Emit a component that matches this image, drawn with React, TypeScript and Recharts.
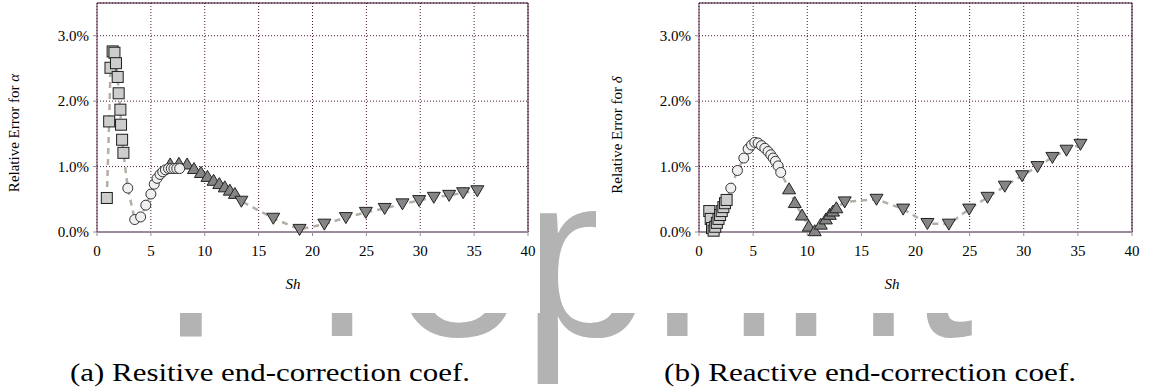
import { CartesianGrid, ReferenceLine, Scatter, ScatterChart, XAxis, YAxis } from 'recharts';

const shTicks = [0, 5, 10, 15, 20, 25, 30, 35, 40];
const errTicks = [0, 1, 2, 3];

// (a) resistive coef, relative error for alpha (%)
const alphaSquareSh = [0.91, 1.13, 1.25, 1.45, 1.62, 1.76, 1.92, 2.01, 2.17, 2.23, 2.33, 2.45];
const alphaSquareErr = [0.52, 1.69, 2.51, 2.76, 2.74, 2.58, 2.37, 2.12, 1.87, 1.64, 1.41, 1.21];
const alphaCircleSh = [2.86, 3.5, 4.05, 4.53, 5.0, 5.31, 5.57, 5.85, 6.1, 6.35, 6.64, 6.89, 7.14, 7.4, 7.67];
const alphaCircleErr = [0.67, 0.19, 0.23, 0.41, 0.58, 0.73, 0.82, 0.88, 0.92, 0.95, 0.97, 0.97, 0.97, 0.97, 0.97];
const alphaUpSh = [6.79, 7.6, 8.36, 9.0, 9.65, 10.25, 10.82, 11.35, 11.86, 12.33, 12.8];
const alphaUpErr = [1.04, 1.05, 1.04, 0.97, 0.91, 0.85, 0.79, 0.74, 0.69, 0.64, 0.59];
const alphaDownSh = [13.4, 16.36, 18.8, 21.1, 23.1, 24.95, 26.7, 28.35, 29.9, 31.26, 32.68, 33.98, 35.3];
const alphaDownErr = [0.47, 0.21, 0.04, 0.12, 0.22, 0.3, 0.36, 0.43, 0.48, 0.53, 0.56, 0.6, 0.63];

// (b) reactive coef, relative error for delta (%)
const deltaSquareSh = [0.95, 1.08, 1.2, 1.35, 1.5, 1.65, 1.8, 1.95, 2.1, 2.25, 2.4, 2.55];
const deltaSquareErr = [0.32, 0.2, 0.06, 0.02, 0.08, 0.14, 0.2, 0.26, 0.32, 0.38, 0.44, 0.49];
const deltaCircleSh = [2.94, 3.55, 4.14, 4.54, 4.85, 5.15, 5.46, 5.77, 6.08, 6.38, 6.63, 6.85, 7.06, 7.31, 7.55];
const deltaCircleErr = [0.67, 0.94, 1.13, 1.27, 1.33, 1.37, 1.36, 1.32, 1.28, 1.23, 1.18, 1.13, 1.08, 1.01, 0.91];
const deltaUpSh = [8.32, 8.85, 9.52, 10.14, 10.69, 11.25, 11.72, 12.08, 12.38, 12.69];
const deltaUpErr = [0.66, 0.45, 0.26, 0.09, 0.02, 0.12, 0.2, 0.27, 0.32, 0.37];
const deltaDownSh = [13.46, 16.4, 18.86, 21.1, 23.08, 24.96, 26.65, 28.25, 29.85, 31.27, 32.65, 33.95, 35.24];
const deltaDownErr = [0.46, 0.5, 0.35, 0.13, 0.12, 0.35, 0.53, 0.7, 0.86, 1.0, 1.14, 1.25, 1.34];

type Pt = { sh: number; err: number };

const zip = (xs: number[], ys: number[]): Pt[] => xs.map((sh, i) => ({ sh, err: ys[i] }));

const SERIF = 'Liberation Serif';

function SquareMark({ cx, cy }: any) {
  return <rect x={cx - 5.5} y={cy - 5.5} width={11} height={11} fill="#cdcdcd" stroke="#1e1e1e" strokeWidth={1} />;
}

function CircleMark({ cx, cy }: any) {
  return <circle cx={cx} cy={cy} r={5} fill="#f0f0f0" stroke="#333" strokeWidth={1} />;
}

function UpMark({ cx, cy }: any) {
  return (
    <path
      d={`M${cx},${cy - 6}L${cx + 6.5},${cy + 5}L${cx - 6.5},${cy + 5}Z`}
      fill="#858585"
      stroke="#222"
      strokeWidth={1}
    />
  );
}

function DownMark({ cx, cy }: any) {
  return (
    <path
      d={`M${cx - 6.5},${cy - 5}L${cx + 6.5},${cy - 5}L${cx},${cy + 6}Z`}
      fill="#858585"
      stroke="#222"
      strokeWidth={1}
    />
  );
}

function NoMark() {
  return <g />;
}

type PanelProps = {
  left: number;
  width: number;
  axisWidth: number;
  rightPad: number;
  squares: Pt[];
  circles: Pt[];
  ups: Pt[];
  downs: Pt[];
};

function ErrorPanel({ left, width, axisWidth, rightPad, squares, circles, ups, downs }: PanelProps) {
  const trend = [...squares, ...circles, ...ups, ...downs].sort((a, b) => a.sh - b.sh);
  const tick = { fontSize: 15, fill: '#000', fontFamily: SERIF };

  return (
    <div style={{ position: 'absolute', left, top: 0, width, height: 313, background: '#fff' }}>
      <ScatterChart width={width} height={313} margin={{ top: 3, right: rightPad, left: 0, bottom: 51 }}>
        <CartesianGrid stroke="#4d1a3c" strokeDasharray="1 2" />
        <XAxis
          type="number"
          dataKey="sh"
          domain={[0, 40]}
          ticks={shTicks}
          interval={0}
          tick={tick}
          tickSize={4}
          tickMargin={9}
          height={30}
          axisLine={{ stroke: '#9a8b9a', strokeWidth: 2 }}
          tickLine={{ stroke: '#9a8b9a' }}
        />
        <YAxis
          type="number"
          dataKey="err"
          domain={[0, 3.5]}
          ticks={errTicks}
          interval={0}
          tickFormatter={(v: number) => `${v.toFixed(1)}%`}
          tick={tick}
          tickSize={4}
          tickMargin={4}
          width={axisWidth}
          axisLine={{ stroke: '#5a2a4a' }}
          tickLine={{ stroke: '#9a8b9a' }}
        />
        <ReferenceLine y={3.5} stroke="#3a0c2c" strokeWidth={1} />
        <ReferenceLine x={40} stroke="#3a0c2c" strokeWidth={1} />
        <Scatter
          data={trend}
          line={{ stroke: '#b4afa6', strokeWidth: 2.5, strokeDasharray: '6 5' }}
          shape={NoMark}
          isAnimationActive={false}
        />
        <Scatter data={squares} shape={SquareMark} isAnimationActive={false} />
        <Scatter data={ups} shape={UpMark} isAnimationActive={false} />
        <Scatter data={downs} shape={DownMark} isAnimationActive={false} />
        <Scatter data={circles} shape={CircleMark} isAnimationActive={false} />
      </ScatterChart>
    </div>
  );
}

export default function App() {
  return (
    <div style={{ position: 'relative', width: 1150, height: 392, overflow: 'hidden', background: '#fff' }}>
      <style>{'body{margin:0}'}</style>
      {/* grey page watermark; the white panels hide all but its lower band */}
      <svg width={1150} height={392} style={{ position: 'absolute', left: 0, top: 0 }}>
        <text x={161} y={336} fontFamily="Liberation Sans" fontSize={232} fill="#b3b3b3">
          Preprint
        </text>
      </svg>

      <ErrorPanel
        left={0}
        width={540}
        axisWidth={97}
        rightPad={12}
        squares={zip(alphaSquareSh, alphaSquareErr)}
        circles={zip(alphaCircleSh, alphaCircleErr)}
        ups={zip(alphaUpSh, alphaUpErr)}
        downs={zip(alphaDownSh, alphaDownErr)}
      />
      <ErrorPanel
        left={596}
        width={554}
        axisWidth={103}
        rightPad={18}
        squares={zip(deltaSquareSh, deltaSquareErr)}
        circles={zip(deltaCircleSh, deltaCircleErr)}
        ups={zip(deltaUpSh, deltaUpErr)}
        downs={zip(deltaDownSh, deltaDownErr)}
      />

      <svg width={1150} height={392} style={{ position: 'absolute', left: 0, top: 0, pointerEvents: 'none' }}>
        <g fontFamily={SERIF} fontSize={15} fill="#000">
          <text transform="translate(19,133) rotate(-90)" textAnchor="middle">
            Relative Error for <tspan fontStyle="italic">α</tspan>
          </text>
          <text transform="translate(622,135) rotate(-90)" textAnchor="middle">
            Relative Error for <tspan fontStyle="italic">δ</tspan>
          </text>
          <text x={293} y={289} textAnchor="middle" fontStyle="italic">
            Sh
          </text>
          <text x={892} y={289} textAnchor="middle" fontStyle="italic">
            Sh
          </text>
        </g>
        <g fontFamily={SERIF} fontSize={25} fill="#000">
          <text x={70} y={381} textLength={400} lengthAdjust="spacingAndGlyphs">
            (a) Resitive end-correction coef.
          </text>
          <text x={664} y={381} textLength={412} lengthAdjust="spacingAndGlyphs">
            (b) Reactive end-correction coef.
          </text>
        </g>
      </svg>
    </div>
  );
}
